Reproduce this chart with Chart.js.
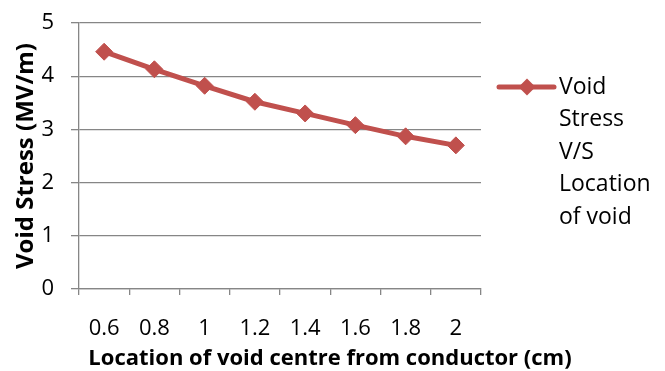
<!DOCTYPE html>
<html>
<head>
<meta charset="utf-8">
<script src="https://cdn.jsdelivr.net/npm/chart.js@4"></script>
<style>
  html, body { margin: 0; padding: 0; background: #fff; }
  #wrap { width: 665px; height: 371px; position: relative; }
</style>
</head>
<body>
<div id="wrap"><canvas id="c" width="665" height="371"></canvas></div>
<script>
// Void location (cm) and the resulting stress inside the void (MV/m)
const locations = ['0.6', '0.8', '1', '1.2', '1.4', '1.6', '1.8', '2'];
const voidStress = [4.46, 4.13, 3.82, 3.52, 3.30, 3.08, 2.87, 2.70];
const yTicks = [0, 1, 2, 3, 4, 5];
const seriesName = ['Void', 'Stress', 'V/S', 'Location', 'of void'];
const xTitle = 'Location of void centre from conductor (cm)';
const yTitle = 'Void Stress (MV/m)';

const FONT = "'Open Sans', 'Liberation Sans', sans-serif";
const RED = '#C0504D';
const GRID = '#868686';

// Legend beside the plot (line sample with a diamond and a wrapped label),
// plus the x-axis title, which is allowed to run wider than the plot area
const sideLegend = {
  id: 'sideLegend',
  afterDraw(chart) {
    const ctx = chart.ctx;
    const area = chart.chartArea;
    const x0 = area.right + 18;
    const y0 = 87;
    ctx.save();
    ctx.strokeStyle = RED;
    ctx.lineWidth = 5;
    ctx.lineCap = 'round';
    ctx.beginPath();
    ctx.moveTo(x0, y0);
    ctx.lineTo(x0 + 55, y0);
    ctx.stroke();
    ctx.fillStyle = RED;
    const cx = x0 + 28, r = 8.5;
    ctx.beginPath();
    ctx.moveTo(cx, y0 - r); ctx.lineTo(cx + r, y0); ctx.lineTo(cx, y0 + r); ctx.lineTo(cx - r, y0);
    ctx.closePath();
    ctx.fill();
    ctx.fillStyle = '#000';
    ctx.font = '23px ' + FONT;
    ctx.textBaseline = 'middle';
    ctx.textAlign = 'left';
    seriesName.forEach((t, i) => ctx.fillText(t, x0 + 60, y0 + i * 32.5));

    ctx.font = 'bold 22px ' + FONT;
    ctx.textAlign = 'center';
    ctx.fillText(xTitle, 330, 359);
    ctx.restore();
  }
};

new Chart(document.getElementById('c'), {
  type: 'line',
  data: {
    labels: locations,
    datasets: [{
      label: seriesName.join(' '),
      data: voidStress,
      borderColor: RED,
      backgroundColor: RED,
      borderWidth: 5,
      pointStyle: 'rectRot',
      pointRadius: 8.5,
      pointHoverRadius: 8.5,
      pointBackgroundColor: RED,
      pointBorderColor: RED,
      pointBorderWidth: 1,
      tension: 0
    }]
  },
  options: {
    responsive: false,
    animation: false,
    devicePixelRatio: 1,
    layout: { padding: { top: 23, right: 184, left: 0, bottom: 0 } },
    plugins: { legend: { display: false }, tooltip: { enabled: false } },
    scales: {
      x: {
        type: 'category',
        offset: true,
        grid: { offset: true, drawOnChartArea: false, drawTicks: true, tickLength: 6, color: GRID, lineWidth: 1.3 },
        border: { color: GRID, width: 1.3 },
        ticks: { color: '#000', font: { family: FONT, size: 22 }, padding: 21, maxRotation: 0, autoSkip: false },
        afterFit(s) { s.height = 82; }
      },
      y: {
        min: 0, max: 5,
        afterBuildTicks(s) { s.ticks = yTicks.map(v => ({ value: v })); },
        grid: { color: GRID, lineWidth: 1.3, tickLength: 8 },
        border: { color: GRID, width: 1.3 },
        ticks: { color: '#000', font: { family: FONT, size: 22 }, padding: 17 },
        title: { display: true, text: yTitle, color: '#000',
                 font: { family: FONT, size: 24, weight: 'bold' }, padding: { top: 11.6, bottom: 0 } },
        afterFit(s) { s.width = 79; s.paddingTop = 0; s.paddingBottom = 0; }
      }
    }
  },
  plugins: [sideLegend]
});
</script>
</body>
</html>
